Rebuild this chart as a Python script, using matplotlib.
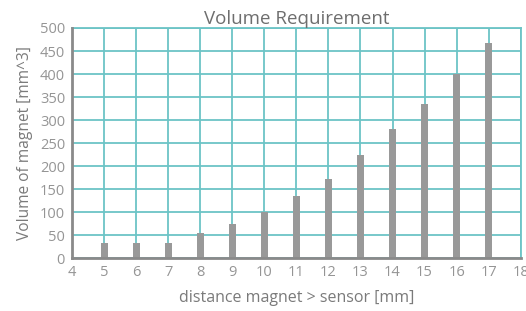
import matplotlib
matplotlib.use("Agg")
import matplotlib.pyplot as plt

distance = [5, 6, 7, 8, 9, 10, 11, 12, 13, 14, 15, 16, 17]
volume = [33, 33, 33, 54, 75, 100, 134, 172, 225, 280, 334, 400, 468]
x_ticks = list(range(4, 19))
y_ticks = list(range(0, 501, 50))

plt.rcParams['font.family'] = ['Open Sans', 'DejaVu Sans']
text_color = '#959595'
grid_color = '#6cc4c6'

fig = plt.figure(figsize=(5.26, 3.11), dpi=100)
ax = fig.add_axes([0.137, 0.170, 0.853, 0.740])

ax.set_xlim(4, 18)
ax.set_ylim(0, 500)
ax.set_xticks(x_ticks)
ax.set_yticks(y_ticks)
ax.grid(True, color=grid_color, linewidth=1.3)
ax.set_axisbelow(True)

ax.bar(distance, volume, width=0.22, color='#999999', zorder=3)

for s in ['top', 'right']:
    ax.spines[s].set_color(grid_color)
    ax.spines[s].set_linewidth(1.3)
for s in ['left', 'bottom']:
    ax.spines[s].set_color('#8a8a8a')
    ax.spines[s].set_linewidth(2)
    ax.spines[s].set_zorder(4)

ax.tick_params(length=0, colors=text_color, labelsize=10.5, pad=5)
ax.set_title('Volume Requirement', color='#6e6e6e', fontsize=13.5, pad=1)
ax.set_xlabel('distance magnet > sensor [mm]', color='#7a7a7a', fontsize=11.5, labelpad=7)
ax.set_ylabel('Volume of magnet [mm^3]', color='#7a7a7a', fontsize=11.2, labelpad=5)

fig.savefig('out.png', dpi=100)
